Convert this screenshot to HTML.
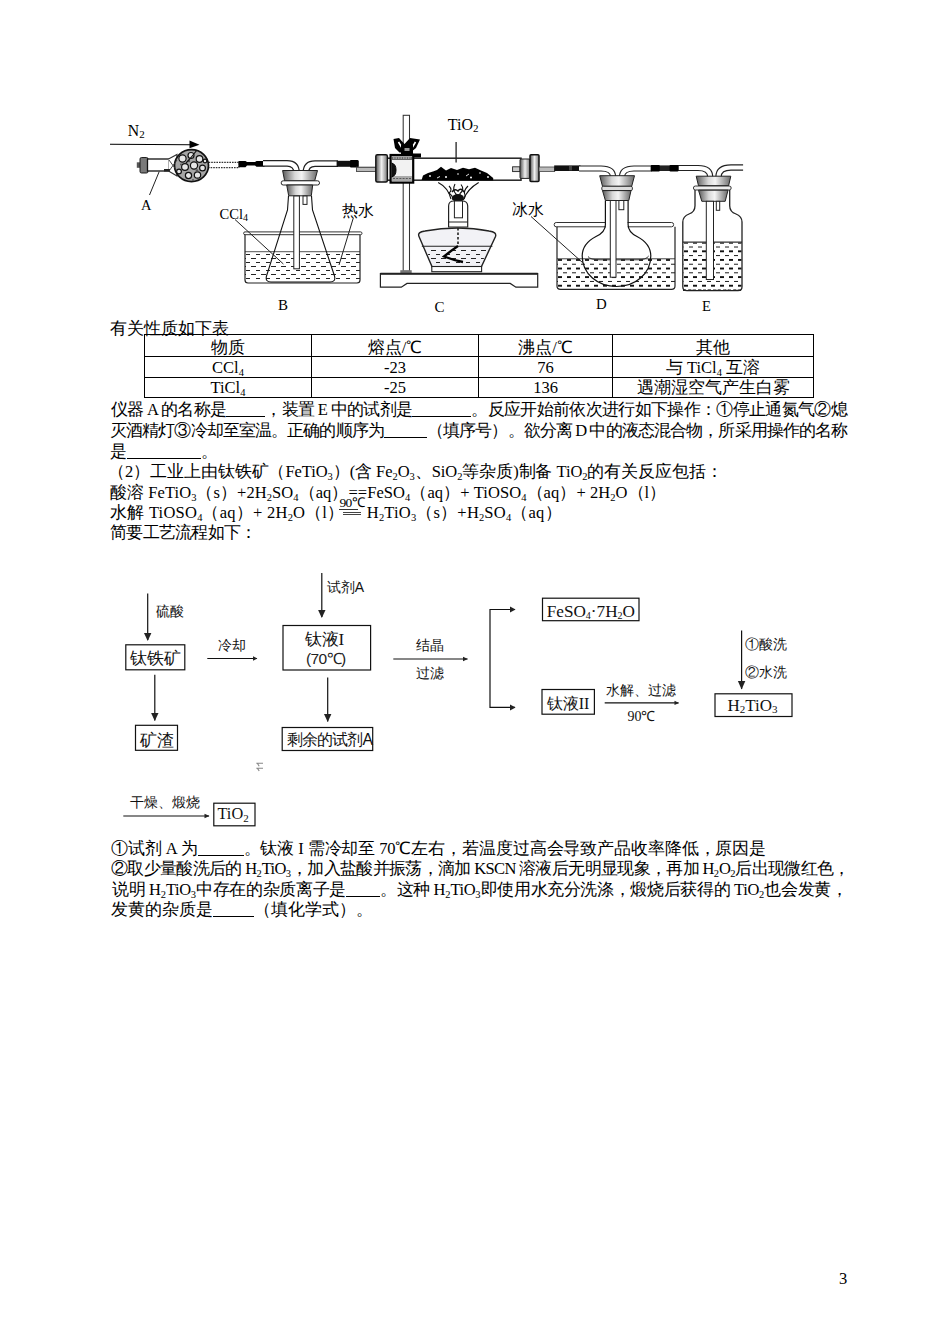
<!DOCTYPE html>
<html><head><meta charset="utf-8"><title>page</title>
<style>
html,body{margin:0;padding:0;background:#fff;}
body{width:950px;height:1344px;position:relative;overflow:hidden;font-family:"Liberation Serif",serif;font-size:16.5px;color:#000;}
.l{position:absolute;white-space:nowrap;line-height:20px;height:20px;}
sub{font-size:10.5px;vertical-align:-3px;line-height:0;letter-spacing:0;}
.b{display:inline-block;height:1px;border-bottom:1px solid #000;vertical-align:-2px;}
.eq{position:relative;display:inline-block;width:18px;height:1px;border-top:1px solid #444;border-bottom:1px solid #444;vertical-align:3.5px;margin:0 1px 0 -1px;}
.t90{position:absolute;left:-4px;top:-16.5px;font-size:13.5px;line-height:14px;letter-spacing:-0.6px;}.t90:before{content:"";position:absolute;left:0;width:19px;top:13px;border-top:1px solid #333;}
table{position:absolute;left:144px;top:334px;border-collapse:collapse;}
.tc{position:absolute;text-align:center;white-space:nowrap;line-height:20px;height:20px;}
svg{position:absolute;left:0;top:0;}
</style></head><body>
<svg width="950" height="1344" viewBox="0 0 950 1344" style="position:absolute;left:0;top:0"><defs>
<linearGradient id="gs" x1="0" x2="1" y1="0" y2="0">
<stop offset="0" stop-color="#5a5a5a"/><stop offset="0.35" stop-color="#d8d8d8"/><stop offset="0.55" stop-color="#f4f4f4"/><stop offset="1" stop-color="#6a6a6a"/>
</linearGradient>
<linearGradient id="gc" x1="0" x2="1" y1="0" y2="0">
<stop offset="0" stop-color="#555"/><stop offset="0.5" stop-color="#f0f0f0"/><stop offset="1" stop-color="#777"/>
</linearGradient>
<pattern id="wat" width="9" height="8.6" patternUnits="userSpaceOnUse">
<rect x="0" y="1.2" width="4.2" height="1.4" fill="#111" shape-rendering="crispEdges"/><rect x="4.5" y="5.5" width="4.2" height="1.4" fill="#111" shape-rendering="crispEdges"/>
</pattern>
<pattern id="wat2" width="10" height="8" patternUnits="userSpaceOnUse">
<rect x="1" y="2" width="5" height="1.3" fill="#222" shape-rendering="crispEdges"/><rect x="6" y="6" width="4.5" height="1.3" fill="#222" shape-rendering="crispEdges"/>
</pattern>
</defs>
<g font-family="Liberation Serif, serif" fill="#000">
<!-- N2 arrow -->
<path d="M110 144.2 L191 144.7" stroke="#000" stroke-width="1.1" fill="none"/>
<path d="M189.5 140.6 L199.5 144.7 L189.5 148.2 Z" fill="#000"/>
<text x="127.8" y="136.4" font-size="15.8">N<tspan font-size="11" dy="2">2</tspan></text>
<!-- drying tube A -->
<rect x="136.8" y="162.3" width="3.5" height="5.5" fill="#555"/>
<rect x="140" y="157.5" width="8" height="15.5" rx="1.5" fill="#6e6e6e" stroke="#222" stroke-width="1"/>
<path d="M142 158.5V172M144 158.5V172M146 158.5V172" stroke="#999" stroke-width="0.6"/>
<rect x="148" y="162.5" width="3.5" height="4.5" fill="#333"/>
<rect x="147.5" y="159" width="21.5" height="12" fill="#fff" stroke="#111" stroke-width="1.3"/>
<path d="M168.5 159 L177 154.5 L177 176 L168.5 171" fill="#fff" stroke="#333" stroke-width="1.1"/>
<rect x="164" y="169" width="6" height="2.5" fill="#222"/>
<rect x="206" y="162.4" width="33" height="5.2" fill="#fff" stroke="#333" stroke-width="1.2" stroke-dasharray="1.6 1"/>
<ellipse cx="191.5" cy="165.6" rx="17" ry="16" fill="#a5a5a5" stroke="#111" stroke-width="1.7"/>
<g fill="#e6e6e6" stroke="#111" stroke-width="1.2">
<circle cx="182.5" cy="158.5" r="3.6"/><circle cx="191" cy="155.5" r="3"/><circle cx="199.5" cy="159" r="3.3"/><circle cx="185" cy="167" r="3.4"/>
<circle cx="194" cy="165.5" r="3.6"/><circle cx="202.5" cy="168" r="2.9"/><circle cx="188.5" cy="175.5" r="3.1"/><circle cx="197.5" cy="175" r="3.2"/><circle cx="179" cy="171.5" r="2.4"/><circle cx="205" cy="161" r="1.8"/>
</g>
<g fill="#555"><circle cx="189" cy="161" r="1.2"/><circle cx="197" cy="170.5" r="1.3"/><circle cx="181" cy="164.5" r="1"/><circle cx="193" cy="180" r="1"/></g>
<path d="M197 150 Q191 158 186 163" stroke="#111" stroke-width="1.2" fill="none"/>
<path d="M169 160 L177 171 M177 160 L169 171" stroke="#333" stroke-width="0.9"/>
<path d="M238.5 161 H245.5 L247 162 H255 L256.5 161 H264.5 V166.8 H256.5 L255 165.6 H247 L245.5 167.2 H238.5 Z" fill="#000"/>
<path d="M149.5 195 L159.2 171.6" stroke="#222" stroke-width="1"/>
<text x="141" y="209.5" font-size="14.5">A</text>
<!-- tubes B -->
<g fill="none" stroke-linecap="butt">
<path d="M263 163.4 H287 Q296.6 163.4 296.6 173" stroke="#222" stroke-width="6.6"/>
<path d="M263 163.4 H287 Q296.6 163.4 296.6 173" stroke="#fff" stroke-width="4.2"/>
<path d="M305.8 173 Q305.8 163.6 315 163.6 H338" stroke="#222" stroke-width="6.6"/>
<path d="M305.8 173 Q305.8 163.6 315 163.6 H338" stroke="#fff" stroke-width="4.2"/>
</g>
<rect x="336.6" y="160.8" width="22" height="6" fill="#111"/>
<rect x="350" y="160" width="8.5" height="7.5" rx="1" fill="#000"/>
<rect x="356.4" y="167.1" width="20" height="4.2" fill="#bbb" stroke="#444" stroke-width="0.8"/>
<!-- stopper B -->
<path d="M282.6 170.5 H317.5 L314.7 180.8 H284.6 Z" fill="url(#gs)" stroke="#222" stroke-width="1"/>
<rect x="281.2" y="180.8" width="38.3" height="4.2" rx="2" fill="#fff" stroke="#222" stroke-width="1"/>
<path d="M286.7 185 H312.7 L311.3 195.8 H288.7 Z" fill="url(#gs)" stroke="#222" stroke-width="1"/>
<!-- beaker B -->
<rect x="245" y="252" width="115" height="30" fill="url(#wat2)"/>
<path d="M245 251.7 H360" stroke="#555" stroke-width="1"/>
<rect x="243.6" y="231.9" width="118.4" height="2.8" rx="1.4" fill="#fff" stroke="#333" stroke-width="1"/>
<path d="M245 234.7 V280 Q245 283 248 283 H357 Q360 283 360 280 V234.7" fill="none" stroke="#222" stroke-width="1.2"/>
<!-- flask B -->
<path d="M288.5 196 L287.5 210 L266.5 276 Q265 282 271 282 L330 282 Q336 282 334.5 276 L312.5 210 L311.5 196" fill="none" stroke="#111" stroke-width="1.1"/>
<rect x="293.8" y="196" width="5.6" height="72.8" fill="#fff" stroke="#222" stroke-width="1"/>
<rect x="303" y="196" width="4" height="8.4" fill="#fff" stroke="#222" stroke-width="1"/>
<text x="219.6" y="219" font-size="14.5">CCl<tspan font-size="10" dy="2">4</tspan></text>
<path d="M235 219.5 L283.4 264" stroke="#222" stroke-width="1"/>
<text x="342" y="216" font-size="15.8" letter-spacing="0.3">热水</text>
<path d="M353.4 217.7 L339 265" stroke="#222" stroke-width="1"/>
<text x="278" y="309.7" font-size="15">B</text>
<!-- C stand -->
<rect x="403.2" y="115.3" width="6.3" height="156" fill="#fff" stroke="#333" stroke-width="1.05"/>
<rect x="400.3" y="270.2" width="11.4" height="3.4" fill="#777"/>
<path d="M380.4 273.6 H537.7 V287.2 H515.9 L510.2 283.4 H407 L401.3 287.2 H380.4 Z" fill="#fff" stroke="#222" stroke-width="1.2"/>
<path d="M380.4 273.8 H537.7" stroke="#222" stroke-width="2"/>
<!-- combustion tube -->
<rect x="387" y="158.2" width="134" height="22" fill="#fff" stroke="#222" stroke-width="1.5"/>
<path d="M421.6 180 L423 175.5 L428 173 L433 171.5 L437 170 L441 166.8 L446 170.5 L451 168 L457 170 L463 167.8 L469 169.2 L475 167.8 L481 170.5 L487 173 L493.2 178 L493.2 180.5 Z" fill="#000"/>
<g fill="#fff"><circle cx="430" cy="176" r="0.9"/><circle cx="446" cy="177" r="1"/><circle cx="458" cy="174" r="0.8"/><circle cx="471" cy="177.5" r="1"/><circle cx="480" cy="173" r="0.8"/><circle cx="488" cy="177" r="0.9"/><path d="M437 178 l3 -1.5" stroke="#ddd" stroke-width="1"/><path d="M466 176 l3 -2" stroke="#ddd" stroke-width="1"/></g>
<path d="M456.1 142 V162.6" stroke="#222" stroke-width="1.3"/>
<text x="447.8" y="129.8" font-size="16">TiO<tspan font-size="11" dy="2.3">2</tspan></text>
<rect x="356.5" y="167.4" width="20" height="4.2" fill="#bbb" stroke="#444" stroke-width="0.8"/>
<rect x="375.8" y="154.7" width="11.6" height="27.3" rx="1.5" fill="url(#gc)" stroke="#111" stroke-width="1.4"/>
<!-- clamp -->
<rect x="390.6" y="155" width="22.6" height="27.6" fill="#f2f2f2" stroke="#000" stroke-width="2.2"/>
<path d="M392 156.5 H412 V160 H392 Z" fill="#666"/>
<path d="M393 158 H411" stroke="#eee" stroke-width="0.8" stroke-dasharray="1.5 1"/>
<path d="M392 176 H412 V181 H392 Z" fill="#aaa"/>
<path d="M393 178.5 H411" stroke="#444" stroke-width="0.8" stroke-dasharray="2 1.2"/>
<path d="M391.5 163 Q396 164 396 170 Q396 176 391.5 177" fill="#111" stroke="#000" stroke-width="1"/>

<path d="M393.5 139 L399 138 L404.5 144 L410 138 L420 139.5 L416 148 L410.5 152.5 H399.5 L395 148 Z" fill="#000"/>
<path d="M398.5 142 L403 149.5 M415.5 142 L411 149.5" stroke="#fff" stroke-width="1.6"/>
<rect x="401" y="145" width="12" height="9" fill="#000"/>
<rect x="404.5" y="148" width="5" height="3" fill="#999"/>
<rect x="413" y="153.5" width="8" height="4" fill="#000"/>
<!-- right cap -->
<rect x="512.6" y="166.8" width="7.4" height="4.8" fill="#ccc" stroke="#222" stroke-width="0.9"/>
<rect x="520" y="159" width="10" height="19.4" rx="1" fill="url(#gc)" stroke="#222" stroke-width="1"/>
<rect x="530" y="154.7" width="9" height="26.9" rx="1" fill="url(#gc)" stroke="#111" stroke-width="1.5"/>
<rect x="539" y="167" width="15.7" height="4.6" fill="#bbb" stroke="#444" stroke-width="0.8"/>
<!-- flame -->
<g fill="none" stroke="#111" stroke-width="1.1">
<path d="M438.2 182.5 C445 186 449 191 451 199"/>
<path d="M478.7 182.5 C471 187 466 193 464 199"/>
<path d="M449 186 q4 4 0 7 q4 3 4 7"/>
<path d="M455 184 q-3 6 1 10 q2 3 0 6"/>
<path d="M461 184.5 q4 5 -1 9 q-1 3 1 6"/>
<path d="M468 186 q-5 5 -3 9 q0 3 -2 5"/>
</g>
<ellipse cx="458" cy="198" rx="6" ry="4" fill="#111"/><path d="M452 192 q3 -4 6 -1 q3 -4 6 1" fill="none" stroke="#111" stroke-width="1.6"/>
<!-- lamp -->
<path d="M448.6 227 V206 Q448.6 201 454 201 H462 Q467.7 201 467.7 206 V227 Z" fill="#fff" stroke="#222" stroke-width="1.2"/>
<rect x="454.4" y="201" width="8.1" height="16.8" fill="#fff" stroke="#222" stroke-width="1"/>
<path d="M448.6 222 H467.7" stroke="#222" stroke-width="1"/>
<path d="M419 236.5 Q417 232 425 231 Q441 228 457.5 228 Q474 228 489 231 Q497 232 495.5 236.5 L481 267.6 H432.4 Z" fill="#f2f2f6" stroke="#222" stroke-width="1.4"/>
<path d="M421.8 246.2 H492.4" stroke="#222" stroke-width="1.1"/>
<path d="M426 249 L488 249 L481 265 H432 Z" fill="url(#wat2)"/>
<path d="M458 228 V246" stroke="#222" stroke-width="1.6" stroke-dasharray="2.5 2"/>
<path d="M458 246 Q452 250 444 256.5 Q453 260 463 262" fill="none" stroke="#000" stroke-width="2.3"/>
<rect x="431.8" y="266.5" width="49.8" height="5.2" fill="#fff" stroke="#222" stroke-width="1.1"/>
<text x="434.5" y="311.5" font-size="15">C</text>
<!-- D -->
<rect x="554.2" y="165.4" width="26.3" height="5.6" fill="#111"/>
<rect x="569" y="166" width="3" height="4.4" fill="#444"/>
<g fill="none">
<path d="M579 168.5 H601 Q613.1 168.5 613.1 177" stroke="#222" stroke-width="6.2"/>
<path d="M579 168.5 H601 Q613.1 168.5 613.1 177" stroke="#fff" stroke-width="3.9"/>
<path d="M622 177 Q622 168.5 634 168.5 H652" stroke="#222" stroke-width="6.2"/>
<path d="M622 177 Q622 168.5 634 168.5 H652" stroke="#fff" stroke-width="3.9"/>
<path d="M675 168 H698 Q710.2 168 710.2 177" stroke="#222" stroke-width="6.2"/>
<path d="M675 168 H698 Q710.2 168 710.2 177" stroke="#fff" stroke-width="3.9"/>
<path d="M718.5 177 Q718.5 167.5 731 167.5 H743.1" stroke="#222" stroke-width="6.4"/>
<path d="M718.5 177 Q718.5 167.5 731 167.5 H744" stroke="#fff" stroke-width="4.2"/>
</g>
<rect x="650.8" y="165.4" width="27.7" height="5.6" fill="#222"/>
<rect x="650.8" y="165" width="9" height="6.4" rx="1" fill="#000"/><rect x="669.5" y="165" width="9" height="6.4" rx="1" fill="#000"/>
<rect x="557" y="259" width="118" height="29" fill="url(#wat)"/>
<path d="M557 258.8 H675" stroke="#444" stroke-width="1"/>
<rect x="554.2" y="222.5" width="119.4" height="4.3" rx="2" fill="#fff" stroke="#333" stroke-width="1"/>
<path d="M557 226.8 V286 Q557 289.3 560.5 289.3 H671.5 Q675 289.3 675 286 V226.8" fill="none" stroke="#222" stroke-width="1.2"/>
<rect x="606" y="221" width="21.6" height="7.6" fill="#fff"/>
<path d="M605.4 200.5 V224.7 Q605.4 232 596 236.5 C584.5 242.5 582.2 250 582.2 256 C582.2 274 598 286.5 616.5 286.5 C635 286.5 650.8 274 650.8 256 C650.8 250 648.5 242.5 637 236.5 Q628.1 232 628.1 224.7 V200.5" fill="#fff" fill-opacity="0" stroke="#111" stroke-width="1.2"/>
<path d="M588 256.5 Q590 259.8 600 259.8 H638 Q646 259.8 648.7 256" fill="none" stroke="#333" stroke-width="1"/>
<path d="M599.7 175.7 H634.5 L631.7 186.3 H602.5 Z" fill="url(#gs)" stroke="#222" stroke-width="1"/>
<rect x="601.8" y="186.3" width="30.6" height="4.3" rx="1.5" fill="#ddd" stroke="#222" stroke-width="0.9"/>
<path d="M602.5 190.6 H631 L628.8 200.5 H605.4 Z" fill="url(#gs)" stroke="#222" stroke-width="1"/>
<rect x="610.3" y="200.5" width="5.7" height="76.7" fill="#fff" stroke="#222" stroke-width="1"/>
<rect x="618.9" y="200.5" width="4.9" height="9.2" fill="#fff" stroke="#222" stroke-width="1"/>
<text x="511.6" y="215" font-size="15.8" letter-spacing="0.3">冰水</text>
<path d="M531 216.5 L582.6 262.6" stroke="#222" stroke-width="1"/>
<text x="596" y="308.8" font-size="14.8">D</text>
<!-- E -->
<rect x="683.5" y="242.5" width="58" height="47" fill="url(#wat)"/>
<path d="M682.8 242.1 H742" stroke="#333" stroke-width="1.2"/>
<path d="M695 190 V205.8 Q695 212 689 214 Q682.8 216.5 682.8 222 V286.7 Q682.8 290.6 687 290.6 H738 Q742 290.6 742 286.7 V222 Q742 216.5 736 214 Q729.7 212 729.7 205.8 V190" fill="none" stroke="#222" stroke-width="1.3"/>
<path d="M683 290.3 H742" stroke="#222" stroke-width="1.5" stroke-dasharray="3 2"/>
<path d="M696.2 176.2 H730.8 L728.6 185.7 H698.5 Z" fill="url(#gs)" stroke="#222" stroke-width="1"/>
<rect x="693.4" y="186" width="37.8" height="4" rx="2" fill="#eee" stroke="#222" stroke-width="0.9"/>
<path d="M698.5 190.2 H728 L725.2 201.3 H701.8 Z" fill="url(#gs)" stroke="#222" stroke-width="1"/>
<rect x="706.3" y="201.3" width="7.2" height="78.2" fill="#fff" stroke="#222" stroke-width="1"/>
<rect x="716.3" y="201.3" width="3.4" height="9" fill="#fff" stroke="#222" stroke-width="1"/>
<text x="702" y="311.4" font-size="14.5">E</text>
</g>
<g fill="none" stroke="#111" stroke-width="1.2">
<path d="M147.7 593.6 V640"/><path d="M144 633 L147.7 641 L151.4 633 Z" fill="#222" stroke="none"/>
<rect x="125.8" y="644.8" width="59" height="25"/>
<path d="M154.8 674.7 V720.5"/><path d="M151.1 713 L154.8 721 L158.5 713 Z" fill="#222" stroke="none"/>
<rect x="135.5" y="725.3" width="42" height="25"/>
<path d="M207.3 658.5 H257"/><path d="M253 656.3 L257.4 658.5 L253 660.7 Z" fill="#222" stroke="none"/>
<path d="M321.8 573 V617"/><path d="M318.1 610 L321.8 618 L325.5 610 Z" fill="#222" stroke="none"/>
<rect x="283" y="625.5" width="87.6" height="44.5"/>
<path d="M327.7 677.6 V721.5"/><path d="M324 714 L327.7 722 L331.4 714 Z" fill="#222" stroke="none"/>
<rect x="282.2" y="727.5" width="90.5" height="23"/>
<path d="M393.3 659 H467.5"/><path d="M463 656.8 L467.8 659 L463 661.2 Z" fill="#222" stroke="none"/>
<path d="M515 609.5 H490 V707.4 H515"/>
<path d="M510 606.5 L515.6 609.5 L510 612.5 Z" fill="#222" stroke="none"/><path d="M510 704.4 L515.6 707.4 L510 710.4 Z" fill="#222" stroke="none"/>
<rect x="542.5" y="598.2" width="96.5" height="22.5"/>
<rect x="542" y="689.5" width="52.4" height="24.7"/>
<path d="M604.7 702.9 H678.5"/><path d="M674.5 700.7 L679 702.9 L674.5 705.1 Z" fill="#222" stroke="none"/>
<path d="M741.6 630.6 V689"/><path d="M737.9 681 L741.6 689.5 L745.3 681 Z" fill="#222" stroke="none"/>
<rect x="715" y="693.8" width="77" height="22.7"/>
<path d="M123.3 816 H209"/><path d="M204.5 813.8 L209.5 816 L204.5 818.2 Z" fill="#222" stroke="none"/>
<rect x="213.8" y="803.2" width="41.2" height="22.6"/>
<path d="M256.3 763.3 H263 M256.3 768.2 H263 M257.5 763.5 L259.2 766.2 M257.5 768.4 L259.2 771" stroke-width="1.1" stroke="#888"/>
</g>
<g font-family="Liberation Serif, serif" fill="#111" font-size="13.5">
<text x="155.7" y="615.5" font-size="14">硫酸</text>
<text x="130" y="663.5" font-size="16.5" letter-spacing="0">钛铁矿</text>
<text x="139.5" y="745.5" font-size="16.5">矿渣</text>
<text x="217.6" y="650">冷却</text>
<text x="326.8" y="591.5" font-size="14">试剂<tspan font-family="Liberation Sans, sans-serif">A</tspan></text>
<text x="304.5" y="645" font-size="17">钛液I</text>
<text x="306" y="663.8" font-size="15.5" fill="#222" font-family="Liberation Sans, sans-serif" letter-spacing="-0.6">(70℃)</text>
<text x="287" y="744.5" font-size="15.8" letter-spacing="-0.9">剩余的试剂<tspan font-family="Liberation Sans, sans-serif">A</tspan></text>
<text x="416" y="649.5" font-size="14">结晶</text>
<text x="416" y="677.5" font-size="14">过滤</text>
<text x="546.7" y="616.5" font-size="17.2" letter-spacing="0">FeSO<tspan font-size="10" dy="2">4</tspan><tspan dy="-2">·7H</tspan><tspan font-size="10" dy="2">2</tspan><tspan dy="-2">O</tspan></text>
<text x="546.7" y="708.5" font-size="16">钛液II</text>
<text x="605.7" y="695" font-size="14">水解、过滤</text>
<text x="627.4" y="720.5" font-size="14">90℃</text>
<text x="745.4" y="649" font-size="14.3">①酸洗</text>
<text x="745.4" y="677" font-size="14.3">②水洗</text>
<text x="727.5" y="710.5" font-size="17">H<tspan font-size="11" dy="2">2</tspan><tspan dy="-2">TiO</tspan><tspan font-size="11" dy="2">3</tspan></text>
<text x="130" y="807" font-size="14">干燥、煅烧</text>
<text x="217.5" y="819" font-size="16.3">TiO<tspan font-size="11" dy="2.5">2</tspan></text>
</g>
</svg>
<svg width="950" height="400" style="position:absolute;left:0;top:0" shape-rendering="crispEdges">
<g stroke="#000" stroke-width="1" fill="none">
<path d="M144.5 334.5H813.5V397.5H144.5Z"/>
<path d="M144.5 356.5H813.5M144.5 377.5H813.5"/>
<path d="M311.5 334.5V397.5M478.5 334.5V397.5M612.5 334.5V397.5"/>
</g></svg>
<div class="tc" style="left:145px;width:166px;top:337.5px">物质</div>
<div class="tc" style="left:312px;width:166px;top:337.5px">熔点/℃</div>
<div class="tc" style="left:479px;width:133px;top:337.5px">沸点/℃</div>
<div class="tc" style="left:613px;width:200px;top:337.5px">其他</div>
<div class="tc" style="left:145px;width:166px;top:357.5px">CCl<sub>4</sub></div>
<div class="tc" style="left:312px;width:166px;top:357.5px">-23</div>
<div class="tc" style="left:479px;width:133px;top:357.5px">76</div>
<div class="tc" style="left:613px;width:200px;top:357.5px">与 TiCl<sub>4</sub> 互溶</div>
<div class="tc" style="left:145px;width:166px;top:378px">TiCl<sub>4</sub></div>
<div class="tc" style="left:312px;width:166px;top:378px">-25</div>
<div class="tc" style="left:479px;width:133px;top:378px">136</div>
<div class="tc" style="left:613px;width:200px;top:378px">遇潮湿空气产生白雾</div>

<div class="l" style="top:318.50px;left:110.00px;letter-spacing:0.000px">有关性质如下表</div>
<div class="l" style="top:400.30px;left:111.00px;letter-spacing:-0.667px">仪器 A 的名称是<span class="b" style="width:39px"></span>，装置 E 中的试剂是<span class="b" style="width:59px"></span>。反应开始前依次进行如下操作：①停止通氮气②熄</div>
<div class="l" style="top:420.90px;left:110.00px;letter-spacing:-0.886px">灭酒精灯③冷却至室温。正确的顺序为<span class="b" style="width:43px"></span>（填序号）。欲分离 D 中的液态混合物，所采用操作的名称</div>
<div class="l" style="top:441.50px;left:110.00px;letter-spacing:0.000px">是<span class="b" style="width:74px"></span>。</div>
<div class="l" style="top:461.50px;left:108.00px;letter-spacing:-0.078px">（2）工业上由钛铁矿（FeTiO<sub>3</sub>）(含 Fe<sub>2</sub>O<sub>3</sub>、SiO<sub>2</sub>等杂质)制备 TiO<sub>2</sub>的有关反应包括：</div>
<div class="l" style="top:482.50px;left:110.00px;letter-spacing:0.074px">酸溶 FeTiO<sub>3</sub>（s）+2H<sub>2</sub>SO<sub>4</sub>（aq）==FeSO<sub>4</sub>（aq）+ TiOSO<sub>4</sub>（aq）+ 2H<sub>2</sub>O（l）</div>
<div class="l" style="top:503.00px;left:110.00px;letter-spacing:0.250px">水解 TiOSO<sub>4</sub>（aq）+ 2H<sub>2</sub>O（l）<span class="eq"><span class="t90">90℃</span></span> H<sub>2</sub>TiO<sub>3</sub>（s）+H<sub>2</sub>SO<sub>4</sub>（aq）</div>
<div class="l" style="top:522.70px;left:110.00px;letter-spacing:-0.750px">简要工艺流程如下：</div>
<div class="l" style="top:839.30px;left:111.00px;letter-spacing:-0.107px">①试剂 A 为<span class="b" style="width:46px"></span>。钛液 I 需冷却至 70℃左右，若温度过高会导致产品收率降低，原因是</div>
<div class="l" style="top:859.30px;left:111.00px;letter-spacing:-0.656px">②取少量酸洗后的 H<sub>2</sub>TiO<sub>3</sub>，加入盐酸并振荡，滴加 KSCN 溶液后无明显现象，再加 H<sub>2</sub>O<sub>2</sub>后出现微红色，</div>
<div class="l" style="top:880.30px;left:112.00px;letter-spacing:-0.354px">说明 H<sub>2</sub>TiO<sub>3</sub>中存在的杂质离子是<span class="b" style="width:34px"></span>。这种 H<sub>2</sub>TiO<sub>3</sub>即使用水充分洗涤，煅烧后获得的 TiO<sub>2</sub>也会发黄，</div>
<div class="l" style="top:900.30px;left:111.00px;letter-spacing:0.033px">发黄的杂质是<span class="b" style="width:41px"></span>（填化学式）。</div>
<div class="l" style="top:1269.00px;left:839px">3</div>
</body></html>
